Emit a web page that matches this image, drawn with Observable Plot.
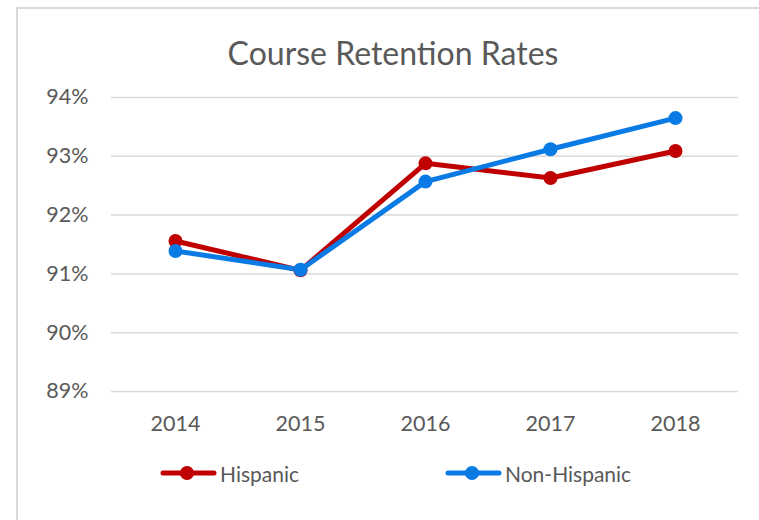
<!DOCTYPE html>
<html>
<head>
<meta charset="utf-8">
<script src="https://cdn.jsdelivr.net/npm/d3@7"></script>
<script src="https://cdn.jsdelivr.net/npm/@observablehq/plot@0.6"></script>
<style>
  html, body { margin: 0; padding: 0; background: #fff; }
  #wrap { position: relative; width: 759px; height: 520px; overflow: hidden; font-family: Lato, "Open Sans", sans-serif; color: #595959; }
  #frame { position: absolute; left: 16px; top: 7px; width: 900px; height: 700px; border-left: 2px solid #d9d9d9; border-top: 2px solid #d9d9d9; }
  #title { position: relative; width: 732px; padding-left: 27px; height: 45px; padding-top: 35px; text-align: center; font-size: 32px; line-height: 36px; white-space: nowrap; }
  #chart svg { display: block; }
  #legend { position: relative; height: 80px; width: 759px; }
  .item { position: absolute; top: 21px; height: 24px; display: flex; align-items: center; font-size: 21px; }
  .item svg { display: block; margin-right: 3px; }
</style>
</head>
<body>
<div id="wrap">
  <div id="frame"></div>
  <div id="title">Course Retention Rates</div>
  <div id="chart"></div>
  <div id="legend"></div>
</div>
<script>
const years = [2014, 2015, 2016, 2017, 2018];
const hispanic = [91.56, 91.06, 92.88, 92.63, 93.09];
const nonHispanic = [91.39, 91.07, 92.57, 93.12, 93.65];
const yTicks = [89, 90, 91, 92, 93, 94];
const seriesNames = ["Hispanic", "Non-Hispanic"];
const seriesColors = ["#C00000", "#0A7BE5"];

const rows = [];
years.forEach((yr, i) => {
  rows.push({year: yr, value: hispanic[i], series: seriesNames[0]});
});
years.forEach((yr, i) => {
  rows.push({year: yr, value: nonHispanic[i], series: seriesNames[1]});
});

const plot = Plot.plot({
  width: 759,
  height: 360,
  marginLeft: 111,
  marginRight: 21,
  marginTop: 17,
  marginBottom: 49,
  style: {fontFamily: "Lato, 'Open Sans', sans-serif", fontSize: "21.5px", color: "#595959", background: "transparent", overflow: "visible"},
  x: {type: "point", domain: years, padding: 0.5, label: null},
  y: {domain: [89, 94], label: null},
  color: {domain: seriesNames, range: seriesColors},
  marks: [
    Plot.ruleY(yTicks, {stroke: "#d9d9d9", strokeWidth: 1.5}),
    Plot.axisY({ticks: yTicks, tickFormat: d => d + "%", tickSize: 0, tickPadding: 23, label: null}),
    Plot.axisX({ticks: years, tickFormat: d => String(d), tickSize: 0, tickPadding: 24, label: null}),
    Plot.line(rows, {x: "year", y: "value", z: "series", stroke: "series", strokeWidth: 5, strokeLinejoin: "round", strokeLinecap: "round"}),
    Plot.dot(rows, {x: "year", y: "value", fill: "series", r: 7})
  ]
});
document.getElementById("chart").appendChild(plot);

const legend = document.getElementById("legend");
const lefts = [160, 445];
seriesNames.forEach((name, i) => {
  const item = document.createElement("div");
  item.className = "item";
  item.style.left = lefts[i] + "px";
  const c = seriesColors[i];
  item.innerHTML = `<svg width="57" height="20"><line x1="3" y1="10" x2="54" y2="10" stroke="${c}" stroke-width="5" stroke-linecap="round"/><circle cx="27" cy="10" r="7" fill="${c}"/></svg><span>${name}</span>`;
  legend.appendChild(item);
});
</script>
</body>
</html>
